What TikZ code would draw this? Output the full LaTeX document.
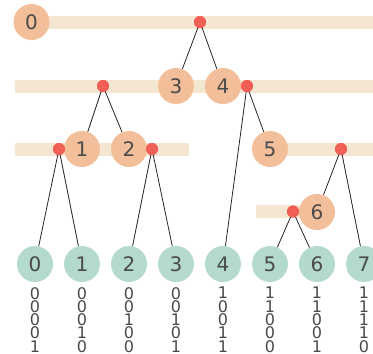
\documentclass[tikz,border=0pt]{standalone}
\usepackage{fontspec}
\setmainfont{DejaVu Sans}
\definecolor{peach}{HTML}{F3BF9B}
\definecolor{mint}{HTML}{B3DACB}
\definecolor{sand}{HTML}{F5E6D1}
\definecolor{coral}{HTML}{F25F57}
\definecolor{ink}{HTML}{4A4A4A}
\tikzset{
    inner/.style={circle, fill=peach, inner sep=0pt, minimum size=36pt, text=ink, font=\fontsize{20}{20}\selectfont},
    leaf/.style={circle, fill=mint, inner sep=0pt, minimum size=36pt, text=ink, font=\fontsize{20}{20}\selectfont},
    split/.style={circle, fill=coral, inner sep=0pt, minimum size=12pt},
    bits/.style={anchor=north, inner sep=0pt, align=center, text=ink, font=\fontsize{16}{13.3}\selectfont},
    band/.style={fill=sand},
    edge/.style={line width=0.8pt, black!85}
}
\begin{document}
\begin{tikzpicture}[x=1pt, y=-1pt]
    \useasboundingbox (0,0) rectangle (373,354);

    % Level bands
    \fill[band] (31,15.5) rectangle (373,28.5);
    \fill[band] (15,79.5) rectangle (373,92.5);
    \fill[band] (15,142.5) rectangle (189,155.5);
    \fill[band] (270,142.5) rectangle (373,155.5);
    \fill[band] (256,205) rectangle (317,218);

    % Leaves and their bit strings
    \foreach \i/\code in {0/0\\0\\0\\0\\1, 1/0\\0\\0\\1\\0, 2/0\\0\\1\\0\\0, 3/0\\0\\1\\0\\1,
                          4/1\\0\\0\\1\\1, 5/1\\1\\0\\0\\0, 6/1\\1\\0\\0\\1, 7/1\\1\\1\\1\\0} {
        \node[leaf] (l\i) at (35+47*\i,264) {\i};
        \node[bits] (b\i) at (35+47*\i,287) {\code};
    }

    % Inner nodes
    \node[inner] (n0) at (31.5,22) {0};
    \node[inner] (n3) at (176,86) {3};
    \node[inner] (n4) at (223,86) {4};
    \node[inner] (n1) at (82,149) {1};
    \node[inner] (n2) at (129,149) {2};
    \node[inner] (n5) at (270,149) {5};
    \node[inner] (n6) at (317,212) {6};

    % Split points
    \node[split] (s0) at (200,22) {};
    \node[split] (s3) at (103,86) {};
    \node[split] (s4) at (247,86) {};
    \node[split] (s1) at (59,149) {};
    \node[split] (s2) at (152,149) {};
    \node[split] (s5) at (341,149) {};
    \node[split] (s6) at (293,211.5) {};

    % Branches
    \draw[edge] (s0.center) -- (n3);
    \draw[edge] (s0.center) -- (n4);
    \draw[edge] (s3.center) -- (n1);
    \draw[edge] (s3.center) -- (n2);
    \draw[edge] (s4.center) -- (l4);
    \draw[edge] (s4.center) -- (n5);
    \draw[edge] (s1.center) -- (l0);
    \draw[edge] (s1.center) -- (l1);
    \draw[edge] (s2.center) -- (l2);
    \draw[edge] (s2.center) -- (l3);
    \draw[edge] (s5.center) -- (n6);
    \draw[edge] (s5.center) -- (l7);
    \draw[edge] (s6.center) -- (l5);
    \draw[edge] (s6.center) -- (l6);

    % Split points again, over the branches
    \foreach \s in {s0, s1, s2, s3, s4, s5, s6}
        \fill[coral] (\s) circle (6pt);
\end{tikzpicture}
\end{document}
